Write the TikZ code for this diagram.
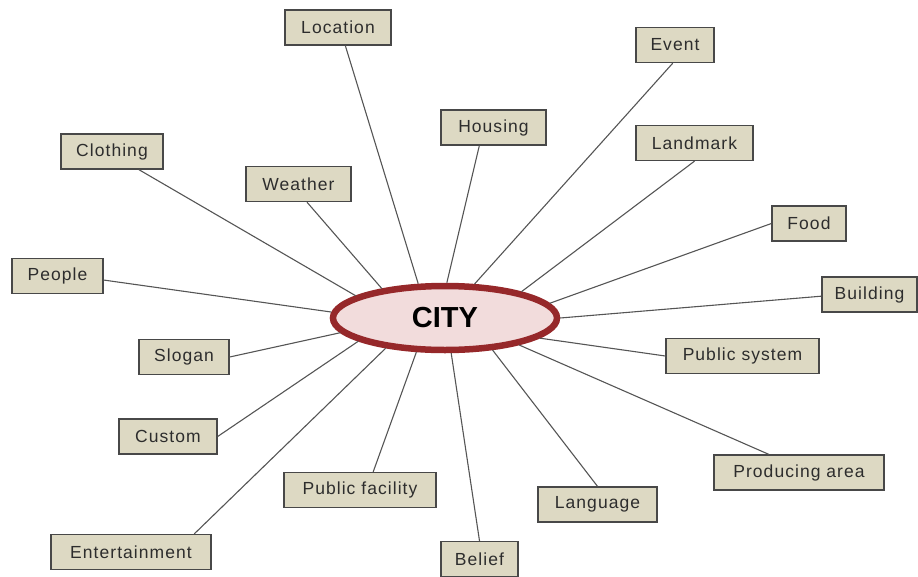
\documentclass[tikz,border=0pt]{standalone}
\usepackage{fontspec}
\usepackage{tikz}
\usetikzlibrary{shapes.geometric}
\newfontfamily\topicFamily[LetterSpace=6]{Liberation Sans}
\newfontfamily\cityFamily{Liberation Sans}
\definecolor{boxFill}{RGB}{221,217,195}
\definecolor{boxBorder}{RGB}{72,72,72}
\definecolor{topicText}{RGB}{45,45,45}
\definecolor{spokeColor}{RGB}{85,85,85}
\definecolor{cityRing}{RGB}{150,40,42}
\definecolor{cityFill}{RGB}{242,220,220}
\tikzstyle{mindMap} = [x = 1pt, y = -1pt]
\tikzstyle{topicBox} = [draw=boxBorder, fill=boxFill, line width=1.3pt, minimum height=35pt, inner sep=0pt, text=topicText, font=\topicFamily\fontsize{17.5}{19}\selectfont]
\tikzstyle{cityStyle} = [ellipse, draw=cityRing, fill=cityFill, line width=6.5pt, minimum width=224pt, minimum height=64pt, inner sep=0pt, font=\cityFamily\bfseries\fontsize{29}{34}\selectfont]
\tikzstyle{spokeLine} = [color=spokeColor, line width=1.1pt]
\newcommand{\topic}[4]{\node [topicBox, minimum width=#3pt] (#1) at (#2) {#4};}
\newcommand{\spoke}[3]{\draw [spokeLine] (#1.#2) -- (city.#3);}
\begin{document}
\begin{tikzpicture}[mindMap]
  \useasboundingbox (0,0) rectangle (918,576);
  \node [cityStyle] (city) at (445,318) {CITY};

  % upper half
  \topic{location}{338,27.5}{106}{Location}
  \topic{housing}{493.5,127.5}{105}{Housing}
  \topic{event}{675,45}{78}{Event}
  \topic{landmark}{694.5,143}{117}{Landmark}
  \topic{food}{809,223.5}{74}{Food}
  \topic{building}{869.5,294.5}{95}{Building}
  \topic{clothing}{112,151.5}{102}{Clothing}
  \topic{weather}{298.5,184}{105}{Weather}
  \topic{people}{57.5,276}{91}{People}

  % lower half
  \topic{slogan}{184,357}{90}{Slogan}
  \topic{custom}{168,436.5}{98}{Custom}
  \topic{entertainment}{131,552}{160}{Entertainment}
  \topic{publicFacility}{360,490}{152}{Public facility}
  \topic{belief}{479.5,559}{77}{Belief}
  \topic{language}{597.5,504.5}{119}{Language}
  \topic{producingArea}{799,472.5}{170}{Producing area}
  \topic{publicSystem}{742.5,356}{153}{Public system}

  \spoke{location}{292}{128}
  \spoke{housing}{232}{87}
  \spoke{event}{263}{49}
  \spoke{landmark}{270}{19.5}
  \spoke{food}{180}{8}
  \spoke{building}{182}{0.5}
  \spoke{publicSystem}{180}{-12}
  \spoke{producingArea}{149}{-20}
  \spoke{language}{90}{-34}
  \spoke{belief}{90}{-80}
  \spoke{publicFacility}{54}{230}
  \spoke{entertainment}{16.6}{207.5}
  \spoke{custom}{0}{195.5}
  \spoke{slogan}{0}{188}
  \spoke{people}{355}{177}
  \spoke{clothing}{326.5}{166.5}
  \spoke{weather}{295}{155}
\end{tikzpicture}
\end{document}
